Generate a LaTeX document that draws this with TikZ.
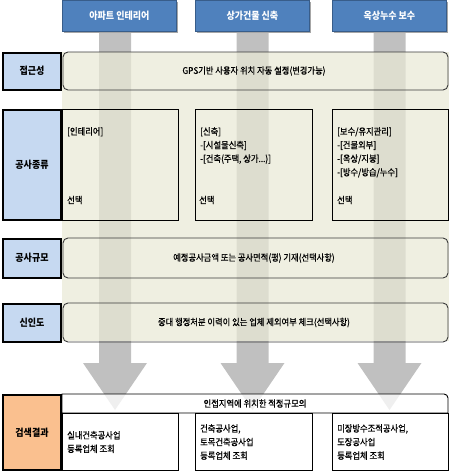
\documentclass[tikz,border=0pt]{standalone}
\usepackage{fontspec}
\newfontfamily\kr{Noto Sans CJK KR}[FakeStretch=0.9]
\newfontfamily\krt{Noto Sans CJK KR}[FakeStretch=0.9, FakeBold=0.7]
\definecolor{hdrblue}{HTML}{4F81BD}
\definecolor{hdrborder}{HTML}{385D8A}
\definecolor{lblblue}{HTML}{C6D9F1}
\definecolor{lblorange}{HTML}{FAC08F}
\definecolor{beigebg}{HTML}{E9E9D6}
\definecolor{bargray}{HTML}{C0C0C0}
\definecolor{rowline}{HTML}{3A3A3A}
\tikzset{
  hdr/.style={draw=hdrborder, line width=0.8pt, fill=hdrblue, text=white, font=\kr\fontsize{10}{12}\selectfont\bfseries, inner sep=0pt},
  hdrshadow/.style={fill=black!35},
  lbl/.style={draw=black, line width=2pt, fill=lblblue, font=\kr\fontsize{10}{12}\selectfont\bfseries, inner sep=0pt},
  rowbox/.style={draw=rowline, line width=0.9pt, rounded corners=5pt, inner sep=0pt},
  colbox/.style={draw=black, line width=1pt, inner sep=0pt},
  txt/.style={font=\krt\fontsize{9.2}{13.6}\selectfont, inner sep=0pt, align=left},
  ctxt/.style={font=\krt\fontsize{9.2}{13.6}\selectfont, inner sep=0pt, align=center},
  flowarrow/.style={fill=bargray, draw=none}
}
\begin{document}
\begin{tikzpicture}[x=1pt,y=-1pt]
\useasboundingbox (0,0) rectangle (450,472);
% gray bars with arrowheads
\foreach \c in {115,252.5,389.5}{
  \fill[flowarrow] (\c-16,32) -- (\c+16,32) -- (\c+16,363) -- (\c+32,363) -- (\c,410) -- (\c-32,363) -- (\c-16,363) -- cycle;
}
% beige background band
\fill[beigebg, fill opacity=0.72] (62,52) rectangle (449,341);
% header boxes
\foreach \x/\t/\n in {62/아파트 인테리어/h1,195/상가건물 신축/h2,332/옥상누수 보수/h3}{
  \fill[hdrshadow] (\x+2,2) rectangle (\x+116,33);
  \node[hdr, minimum width=114pt, minimum height=31pt, anchor=north west] (\n) at (\x,0) {\t};
}
% label boxes
\node[lbl, minimum width=58pt, minimum height=37pt] (l1) at (32,71) {접근성};
\node[lbl, minimum width=58pt, minimum height=110pt] (l2) at (32,164.5) {공사종류};
\node[lbl, minimum width=58pt, minimum height=39pt] (l3) at (32,258) {공사규모};
\node[lbl, minimum width=58pt, minimum height=38pt] (l4) at (32,322.5) {신인도};
\node[lbl, fill=lblorange, minimum width=58pt, minimum height=75pt] (l5) at (32,432.5) {검색결과};
% row boxes
\node[rowbox, minimum width=385pt, minimum height=38pt] (r1) at (255.5,71) {};
\node[ctxt] (t1) at (254,71) {GPS기반 사용자 위치 자동 설정(변경가능)};
\node[rowbox, minimum width=385pt, minimum height=40pt] (r3) at (255.5,258) {};
\node[ctxt] (t3) at (254,258) {예정공사금액 또는 공사면적(평) 기재(선택사항)};
\node[rowbox, minimum width=385pt, minimum height=39pt] (r4) at (255.5,322.5) {};
\node[ctxt] (t4) at (254,322.5) {중대 행정처분 이력이 있는 업체 제외여부 체크(선택사항)};
% construction type columns
\node[colbox, minimum width=116pt, minimum height=111pt, anchor=north west] (c1) at (62,109) {};
\node[colbox, minimum width=117pt, minimum height=111pt, anchor=north west] (c2) at (195,109) {};
\node[colbox, minimum width=116pt, minimum height=111pt, anchor=north west] (c3) at (332,109) {};
\node[txt, anchor=north west] (c1t) at (67,127) {[인테리어]};
\node[txt, anchor=north west] (c2t) at (200,127) {[신축]\\-[시설물신축]\\-[건축(주택, 상가...)]};
\node[txt, anchor=north west] (c3t) at (337,127) {[보수/유지관리]\\-[건물외부]\\-[옥상/지붕]\\-[방수/방습/누수]};
\node[txt, anchor=west] (c1s) at (67,200) {선택};
\node[txt, anchor=west] (c2s) at (199,200) {선택};
\node[txt, anchor=west] (c3s) at (337,200) {선택};
% results header
\filldraw[draw=black, line width=0.9pt, fill=white, fill opacity=0.75] (62,413) -- (62,394) -- (444,394) arc[start angle=270, end angle=360, radius=4] -- (448,413) -- cycle;
\node[ctxt] (rh) at (255,403.5) {인접지역에 위치한 적정규모의};
% result columns
\node[colbox, fill=white, minimum width=116pt, minimum height=57pt, anchor=north west] (e1) at (62,413) {};
\node[colbox, fill=white, minimum width=117pt, minimum height=57pt, anchor=north west] (e2) at (195,413) {};
\node[colbox, fill=white, minimum width=116pt, minimum height=57pt, anchor=north west] (e3) at (332,413) {};
\node[txt, anchor=west] (e1t) at (67,442) {실내건축공사업\\등록업체 조회};
\node[txt, anchor=west] (e2t) at (200,442) {건축공사업,\\토목건축공사업\\등록업체 조회};
\node[txt, anchor=west] (e3t) at (337,442) {미장방수조적공사업,\\도장공사업\\등록업체 조회};
\end{tikzpicture}
\end{document}
